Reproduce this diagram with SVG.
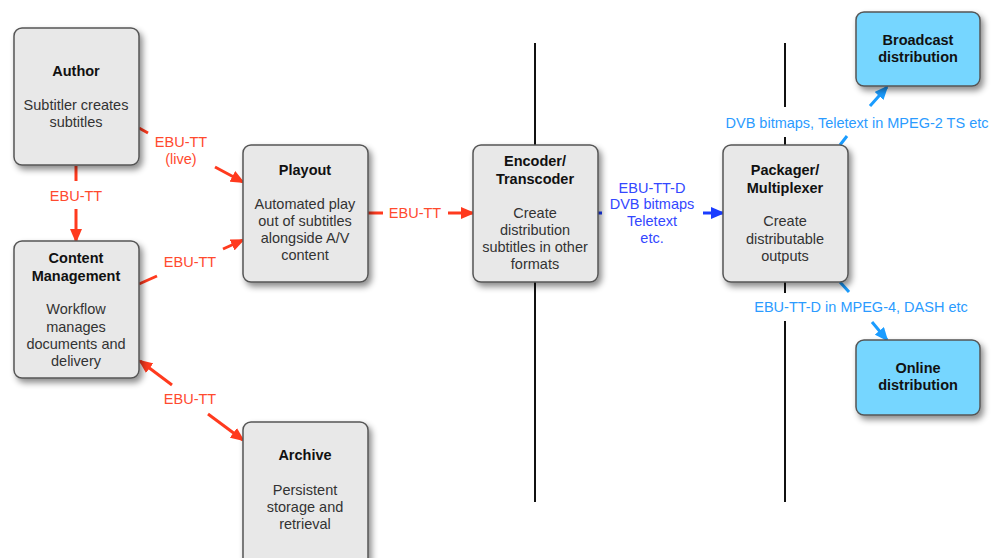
<svg xmlns="http://www.w3.org/2000/svg" width="992" height="558" viewBox="0 0 992 558">
<style>
text{font-family:"Liberation Sans",Arial,sans-serif;font-size:14.5px;text-anchor:middle}
.t{font-weight:bold;fill:#111}
.b{fill:#333}
.box{fill:#e8e8e8;stroke:#555;stroke-width:1.5}
.dist{fill:#76d6ff;stroke:#555;stroke-width:1.5}
.red{stroke:#ff3a1e;stroke-width:3;fill:none}
.blu{stroke:#1a3cff;stroke-width:3;fill:none}
.lb{stroke:#1a9cff;stroke-width:3;fill:none}
.lr{fill:#ff4a2e}
.lbl{fill:#3347ff}
.llb{fill:#2b9bff}
.sep{stroke:#111;stroke-width:2;fill:none}
</style>
<defs>
<filter id="sh" x="-20%" y="-20%" width="150%" height="150%">
<feDropShadow dx="3" dy="4" stdDeviation="3" flood-color="#000" flood-opacity="0.45"/>
</filter>
<marker id="ar" viewBox="0 0 14 12" refX="12" refY="6" markerWidth="14" markerHeight="12" markerUnits="userSpaceOnUse" orient="auto-start-reverse"><path d="M0,0 L14,6 L0,12 z" fill="#ff3a1e"/></marker>
<marker id="ab" viewBox="0 0 14 12" refX="12" refY="6" markerWidth="14" markerHeight="12" markerUnits="userSpaceOnUse" orient="auto"><path d="M0,0 L14,6 L0,12 z" fill="#1a3cff"/></marker>
<marker id="alb" viewBox="0 0 14 12" refX="12" refY="6" markerWidth="14" markerHeight="12" markerUnits="userSpaceOnUse" orient="auto"><path d="M0,0 L14,6 L0,12 z" fill="#1a9cff"/></marker>
</defs>

<g id="separators">
<path class="sep" d="M535 43 V502"/>
<path class="sep" d="M785 43 V107 M785 137 V150 M785 278 V293 M785 321 V502"/>
</g>

<g id="connectors">
<path class="red" marker-end="url(#ar)" d="M76 166 V181 M76 209 V241"/>
<path class="red" marker-end="url(#ar)" d="M139 128 L148 133 M215 167 L243 182"/>
<path class="red" marker-end="url(#ar)" d="M139 284 L157 276 M223 249 L243 240"/>
<path class="red" marker-start="url(#ar)" d="M140 361 L172 385"/>
<path class="red" marker-end="url(#ar)" d="M208 414 L243 440"/>
<path class="red" marker-end="url(#ar)" d="M368 213 H383 M448 213 H473"/>
<path class="blu" marker-end="url(#ab)" d="M598 213 H602 M703 213 H723"/>
<path class="lb" marker-end="url(#alb)" d="M840 145 L847 136 M870 106 L887 87"/>
<path class="lb" marker-end="url(#alb)" d="M840 282 L849 292 M872 322 L887 340"/>
<text class="lr" x="76" y="201">EBU-TT</text>
<text class="lr" x="181" y="147">EBU-TT</text>
<text class="lr" x="181" y="164">(live)</text>
<text class="lr" x="190" y="267">EBU-TT</text>
<text class="lr" x="190" y="404">EBU-TT</text>
<text class="lr" x="415" y="218">EBU-TT</text>
<text class="lbl" x="652" y="193">EBU-TT-D</text>
<text class="lbl" x="652" y="209">DVB bitmaps</text>
<text class="lbl" x="652" y="226">Teletext</text>
<text class="lbl" x="652" y="243">etc.</text>
<text class="llb" x="857" y="128">DVB bitmaps, Teletext in MPEG-2 TS etc</text>
<text class="llb" x="861" y="312">EBU-TT-D in MPEG-4, DASH etc</text>
</g>

<g id="author">
<rect class="box" filter="url(#sh)" x="14" y="28" width="125" height="137" rx="8"/>
<text class="t" x="76" y="76">Author</text>
<text class="b" x="76" y="110">Subtitler creates</text>
<text class="b" x="76" y="127">subtitles</text>
</g>

<g id="content-management">
<rect class="box" filter="url(#sh)" x="14" y="241" width="125" height="137" rx="8"/>
<text class="t" x="76" y="263">Content</text>
<text class="t" x="76" y="281">Management</text>
<text class="b" x="76" y="314">Workflow</text>
<text class="b" x="76" y="332">manages</text>
<text class="b" x="76" y="349">documents and</text>
<text class="b" x="76" y="366">delivery</text>
</g>

<g id="playout">
<rect class="box" filter="url(#sh)" x="243" y="145" width="125" height="137" rx="8"/>
<text class="t" x="305" y="175">Playout</text>
<text class="b" x="305" y="209">Automated play</text>
<text class="b" x="305" y="226">out of subtitles</text>
<text class="b" x="305" y="243">alongside A/V</text>
<text class="b" x="305" y="260">content</text>
</g>

<g id="archive">
<rect class="box" filter="url(#sh)" x="243" y="422" width="125" height="145" rx="8"/>
<text class="t" x="305" y="460">Archive</text>
<text class="b" x="305" y="495">Persistent</text>
<text class="b" x="305" y="512">storage and</text>
<text class="b" x="305" y="529">retrieval</text>
</g>

<g id="encoder">
<rect class="box" filter="url(#sh)" x="473" y="145" width="125" height="137" rx="8"/>
<text class="t" x="535" y="166">Encoder/</text>
<text class="t" x="535" y="184">Transcoder</text>
<text class="b" x="535" y="218">Create</text>
<text class="b" x="535" y="235">distribution</text>
<text class="b" x="535" y="252">subtitles in other</text>
<text class="b" x="535" y="269">formats</text>
</g>

<g id="packager">
<rect class="box" filter="url(#sh)" x="723" y="145" width="125" height="137" rx="8"/>
<text class="t" x="785" y="175">Packager/</text>
<text class="t" x="785" y="193">Multiplexer</text>
<text class="b" x="785" y="226">Create</text>
<text class="b" x="785" y="244">distributable</text>
<text class="b" x="785" y="261">outputs</text>
</g>

<g id="broadcast">
<rect class="dist" filter="url(#sh)" x="856" y="12" width="124" height="74" rx="8"/>
<text class="t" x="918" y="45">Broadcast</text>
<text class="t" x="918" y="62">distribution</text>
</g>

<g id="online">
<rect class="dist" filter="url(#sh)" x="856" y="340" width="124" height="75" rx="8"/>
<text class="t" x="918" y="373">Online</text>
<text class="t" x="918" y="390">distribution</text>
</g>
</svg>
